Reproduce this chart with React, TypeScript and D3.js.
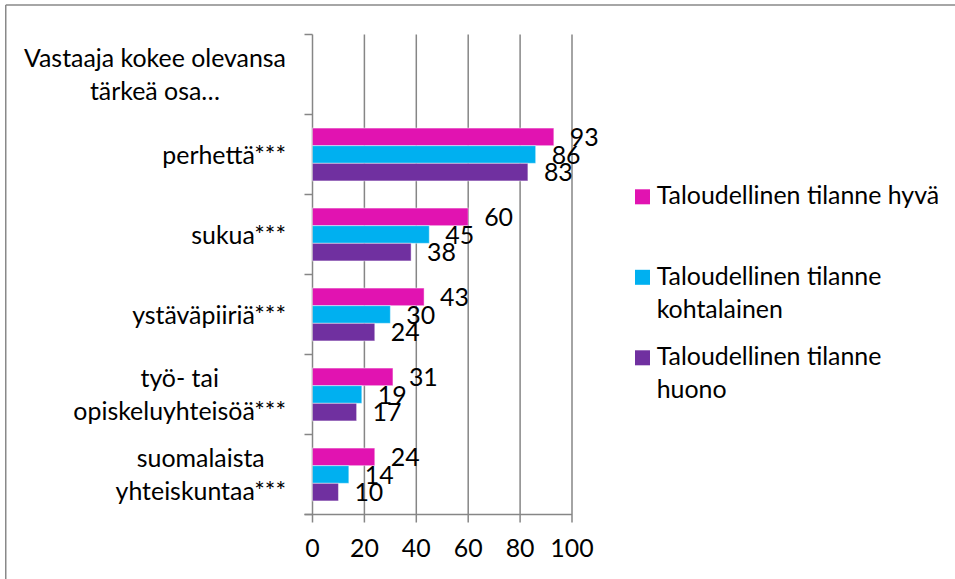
import React, { useMemo } from 'react';
import * as d3 from 'd3';

const categories: string[][] = [
  ['Vastaaja kokee olevansa', 'tärkeä osa…'],
  ['perhettä***'],
  ['sukua***'],
  ['ystäväpiiriä***'],
  ['työ- tai', 'opiskeluyhteisöä***'],
  ['suomalaista', 'yhteiskuntaa***'],
];
const seriesLabels: string[][] = [
  ['Taloudellinen tilanne hyvä'],
  ['Taloudellinen tilanne', 'kohtalainen'],
  ['Taloudellinen tilanne', 'huono'],
];
const seriesColors = ['#E113B1', '#00B0F0', '#7030A0'];
const hyva: (number | null)[] = [null, 93, 60, 43, 31, 24];
const kohtalainen: (number | null)[] = [null, 86, 45, 30, 19, 14];
const huono: (number | null)[] = [null, 83, 38, 24, 17, 10];
const xTicks = [0, 20, 40, 60, 80, 100];

const W = 955;
const H = 579;
const FONT = 'Lato, Carlito, Calibri, sans-serif';

function measure(text: string, size: number): number {
  if (typeof document === 'undefined') return text.length * size * 0.45;
  const c = document.createElement('canvas');
  const ctx = c.getContext('2d');
  if (!ctx) return text.length * size * 0.45;
  ctx.font = `${size}px ${FONT}`;
  return ctx.measureText(text).width;
}

export default function App() {
  const series = [hyva, kohtalainen, huono];

  // pick font size so the legend's widest line has the reference width
  const fontSize = useMemo(() => {
    const w = measure('Taloudellinen tilanne hyvä', 26.5);
    return Math.max(18, Math.min(30, (26.5 * 282.6) / w));
  }, []);

  const x = d3.scaleLinear().domain([0, 100]).range([312.5, 572]);
  const y = d3
    .scaleBand<number>()
    .domain(d3.range(categories.length))
    .range([34.5, 514.5]);
  const inner = d3
    .scaleBand<number>()
    .domain(d3.range(series.length))
    .range([0, y.bandwidth()])
    .paddingOuter(0.77)
    .paddingInner(0);

  const lineH = 32.7;
  const labelRight = 286;
  const gridColor = '#868686';

  return (
    <svg
      width={W}
      height={H}
      style={{ position: 'absolute', left: 0, top: 0, background: '#fff' }}
      fontFamily={FONT}
      fontSize={fontSize}
    >
      <rect x={0} y={0} width={W} height={H} fill="#fff" />
      {/* outer chart frame (cut off at right/bottom) */}
      <line x1={5.75} y1={5} x2={W} y2={5} stroke="#898989" strokeWidth={1.5} />
      <line x1={5.75} y1={5} x2={5.75} y2={H} stroke="#898989" strokeWidth={1.5} />

      {/* vertical gridlines + x ticks */}
      {xTicks.map((t) => (
        <g key={t}>
          <line
            x1={x(t)}
            x2={x(t)}
            y1={y.range()[0]}
            y2={y.range()[1] + 8}
            stroke={gridColor}
            strokeWidth={1.5}
          />
          <text x={x(t)} y={556.7} textAnchor="middle" fill="#000">
            {t}
          </text>
        </g>
      ))}

      {/* x axis line */}
      <line
        x1={x(0) - 8}
        x2={x(100)}
        y1={y.range()[1]}
        y2={y.range()[1]}
        stroke={gridColor}
        strokeWidth={1.5}
      />
      {/* y axis ticks at band boundaries */}
      {d3.range(categories.length + 1).map((i) => {
        const yy = y.range()[0] + i * y.step();
        return (
          <line
            key={i}
            x1={x(0) - 8}
            x2={x(0)}
            y1={yy}
            y2={yy}
            stroke={gridColor}
            strokeWidth={1.5}
          />
        );
      })}

      {/* bars */}
      {categories.map((_, ci) =>
        series.map((s, si) => {
          const v = s[ci];
          if (v == null) return null;
          const by = (y(ci) as number) + (inner(si) as number);
          const bh = inner.bandwidth();
          return (
            <g key={`${ci}-${si}`}>
              <rect
                x={x(0)}
                y={by}
                width={x(v) - x(0)}
                height={bh}
                fill={seriesColors[si]}
                stroke="rgba(255,255,255,0.45)"
                strokeWidth={1}
              />
              <text x={x(v) + 16} y={by + bh / 2 + 9.3} fill="#000">
                {v}
              </text>
            </g>
          );
        })
      )}

      {/* category labels */}
      {categories.map((lines, ci) => {
        const c = (y(ci) as number) + y.bandwidth() / 2;
        const bw = Math.max(...lines.map((l) => measure(l, fontSize)));
        const cx = labelRight - bw / 2;
        return (
          <text key={ci} textAnchor="middle" fill="#000">
            {lines.map((l, k) => (
              <tspan
                key={k}
                x={cx}
                y={c + 9 + (k - (lines.length - 1) / 2) * lineH}
              >
                {l}
              </tspan>
            ))}
          </text>
        );
      })}

      {/* legend */}
      {seriesLabels.map((lines, si) => {
        const base = 204.3 + si * 80.5;
        return (
          <g key={si}>
            <rect x={635} y={base - 15} width={15} height={15} fill={seriesColors[si]} />
            <text fill="#000">
              {lines.map((l, k) => (
                <tspan key={k} x={656.7} y={base + k * lineH}>
                  {l}
                </tspan>
              ))}
            </text>
          </g>
        );
      })}
    </svg>
  );
}
